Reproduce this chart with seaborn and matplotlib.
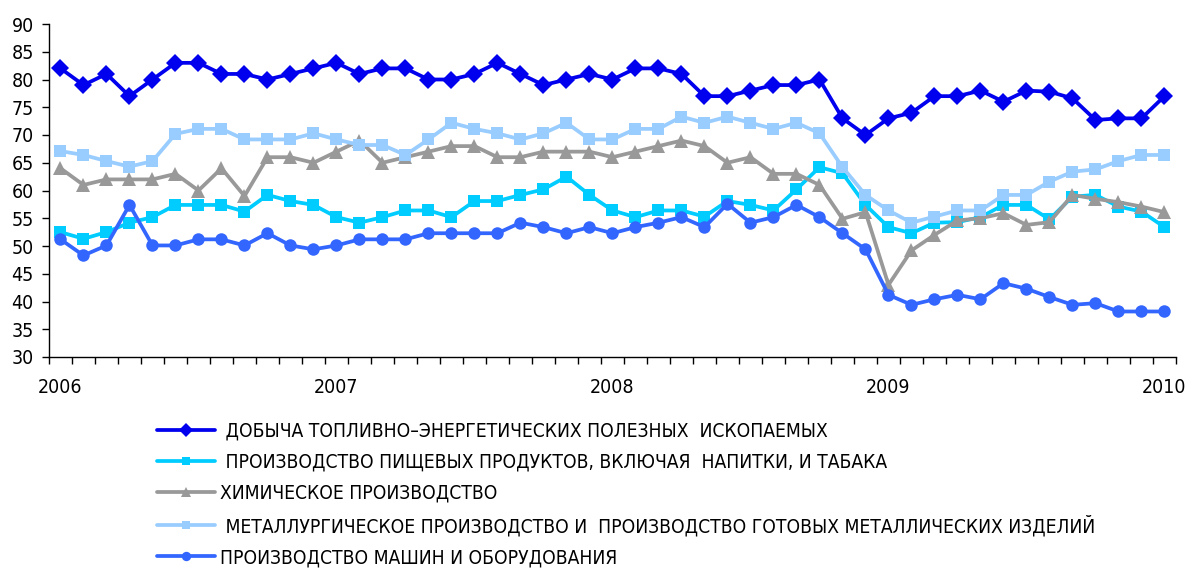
import numpy as np
import pandas as pd
import matplotlib
matplotlib.use('Agg')
import matplotlib.pyplot as plt
from matplotlib import font_manager
import seaborn as sns

# monthly index values, Jan 2006 .. Jan 2010
mining = [82, 79, 81, 77, 80, 83, 83, 81, 81, 80, 81, 82,
          83, 81, 82, 82, 80, 80, 81, 83, 81, 79, 80, 81,
          80, 82, 82, 81, 77, 77, 78, 79, 79, 80, 73, 70,
          73, 74, 77, 77, 78, 76, 78, 77.8, 76.6, 72.7, 73, 73,
          77]
food = [52.5, 51.3, 52.5, 54.2, 55.2, 57.4, 57.4, 57.4, 56.2, 59.2, 58.1, 57.4,
        55.2, 54.2, 55.2, 56.4, 56.4, 55.2, 58.1, 58.1, 59.2, 60.2, 62.5, 59.2,
        56.4, 55.2, 56.4, 56.4, 55.3, 58.1, 57.4, 56.4, 60.2, 64.2, 63.1, 57.4,
        53.4, 52.3, 54.2, 54.3, 55.2, 57.4, 57.4, 54.8, 58.9, 59.2, 57.1, 56.2,
        53.4]
chem = [64, 61, 62, 62, 62, 63, 60, 64, 59, 66, 66, 65,
        67, 69, 65, 66, 67, 68, 68, 66, 66, 67, 67, 67,
        66, 67, 68, 69, 68, 65, 66, 63, 63, 61, 54.9, 56.1,
        43, 49.2, 52, 54.6, 55, 55.9, 53.8, 54.3, 59.2, 58.5, 57.9, 57.1,
        56.1]
metal = [67.1, 66.4, 65.3, 64.3, 65.3, 70.2, 71.1, 71.1, 69.2, 69.2, 69.2, 70.3,
         69.2, 68.2, 68.2, 66.4, 69.2, 72.2, 71.1, 70.3, 69.2, 70.3, 72.2, 69.2,
         69.2, 71.1, 71.1, 73.3, 72.2, 73.3, 72.2, 71.1, 72.2, 70.3, 64.2, 59.2,
         56.4, 54.2, 55.3, 56.4, 56.4, 59.2, 59.2, 61.6, 63.4, 63.8, 65.3, 66.4,
         66.4]
machines = [51.2, 48.3, 50.1, 57.4, 50.1, 50.1, 51.2, 51.2, 50.1, 52.3, 50.1, 49.4,
            50.1, 51.2, 51.2, 51.2, 52.3, 52.3, 52.3, 52.3, 54.2, 53.4, 52.3, 53.4,
            52.3, 53.4, 54.2, 55.2, 53.4, 57.6, 54.2, 55.2, 57.4, 55.2, 52.3, 49.4,
            41.2, 39.4, 40.4, 41.2, 40.4, 43.3, 42.3, 40.8, 39.4, 39.7, 38.2, 38.2,
            38.2]

labels = [' ДОБЫЧА ТОПЛИВНО–ЭНЕРГЕТИЧЕСКИХ ПОЛЕЗНЫХ  ИСКОПАЕМЫХ',
          ' ПРОИЗВОДСТВО ПИЩЕВЫХ ПРОДУКТОВ, ВКЛЮЧАЯ  НАПИТКИ, И ТАБАКА',
          'ХИМИЧЕСКОЕ ПРОИЗВОДСТВО',
          ' МЕТАЛЛУРГИЧЕСКОЕ ПРОИЗВОДСТВО И  ПРОИЗВОДСТВО ГОТОВЫХ МЕТАЛЛИЧЕСКИХ ИЗДЕЛИЙ',
          'ПРОИЗВОДСТВО МАШИН И ОБОРУДОВАНИЯ']
years = ['2006', '2007', '2008', '2009', '2010']

colors = ['#0000EE', '#00CCFF', '#999999', '#99CCFF', '#3366FF']
markers = ['D', 's', '^', 's', 'o']
msizes = [9.5, 8.5, 10, 8.5, 9]

sns.set_style('ticks')

# pick a narrow font if one is there, otherwise an Arial-like one, smaller
installed = {(f.name, f.stretch) for f in font_manager.fontManager.ttflist}
names = {n for n, s in installed}
stretch = 'normal'
if 'Liberation Sans Narrow' in names:
    fam, tick_fs, leg_fs, lsp = 'Liberation Sans Narrow', 14, 15, 0.54
elif ('DejaVu Sans', 'condensed') in installed:
    fam, tick_fs, leg_fs, lsp, stretch = 'DejaVu Sans', 14, 13.8, 0.62, 'condensed'
else:
    fam, tick_fs, leg_fs, lsp = 'Liberation Sans', 13, 12.6, 0.73
plt.rcParams['font.family'] = [fam, 'DejaVu Sans']
plt.rcParams['font.stretch'] = stretch
plt.rcParams['text.color'] = 'black'
plt.rcParams['xtick.color'] = 'black'
plt.rcParams['ytick.color'] = 'black'

months = np.arange(len(mining))
df = pd.DataFrame({'month': months, 'mining': mining, 'food': food,
                   'chem': chem, 'metal': metal, 'machines': machines})

fig = plt.figure(figsize=(11.86, 5.68), dpi=100)
ax = fig.add_axes([49 / 1186, 1 - 357 / 568, 1127 / 1186, 333 / 568])

for col, lab, c, m, ms in zip(['mining', 'food', 'chem', 'metal', 'machines'],
                              labels, colors, markers, msizes):
    sns.lineplot(data=df, x='month', y=col, ax=ax, color=c, marker=m,
                 markersize=ms, markeredgewidth=0, linewidth=2.7, label=lab)

ax.set_xlim(-0.5, 48.5)
ax.set_ylim(30, 90)
ax.set_yticks(range(30, 91, 5))
ax.set_xticks(np.arange(-0.5, 49, 1))
ax.set_xticklabels([])
ax.set_xticks([0, 12, 24, 36, 48], minor=True)
ax.set_xticklabels(years, minor=True)
ax.tick_params(axis='x', which='major', length=5, width=1, color='black')
ax.tick_params(axis='x', which='minor', length=0, pad=15, labelsize=tick_fs)
ax.tick_params(axis='y', length=5, width=1, pad=6, labelsize=tick_fs)
ax.set_xlabel('')
ax.set_ylabel('')
sns.despine(ax=ax)
for s in ['left', 'bottom']:
    ax.spines[s].set_color('black')
    ax.spines[s].set_linewidth(1)

handles, labs = ax.get_legend_handles_labels()
ax.get_legend().remove()
fig.legend(handles, labs, loc='upper left', bbox_to_anchor=(157 / 1186, 1 - 422 / 568),
           frameon=False, fontsize=leg_fs, handlelength=58 / (leg_fs * 100 / 72),
           handletextpad=0.25, labelspacing=lsp,
           borderpad=0, borderaxespad=0, markerscale=0.75)

fig.savefig('out.png', dpi=100)
